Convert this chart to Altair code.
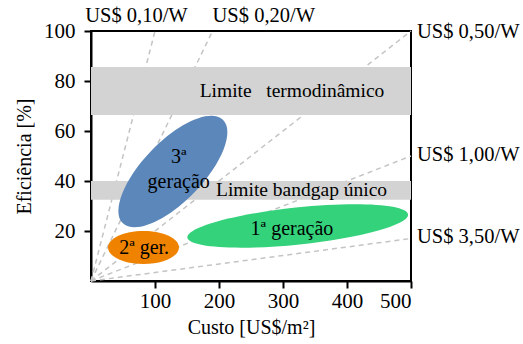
import altair as alt
import pandas as pd

# Iso-price lines (US$/W) from the origin
price_labels = ["US$ 0,10/W", "US$ 0,20/W", "US$ 0,50/W", "US$ 1,00/W", "US$ 3,50/W"]
line_end_cost = [100, 190, 500, 500, 500]
line_end_eff = [100, 100, 100, 50, 17]
label_cost = [71, 270, 500, 500, 500]
label_eff = [106, 106, 99.6, 50.4, 17.6]

# Limit bands
band_names = ["Limite\u00a0\u00a0 termodinâmico", "Limite bandgap único"]
band_low = [66.4, 32.5]
band_high = [85.6, 40.0]
band_text_cost = [314, 329]
band_text_eff = [76, 36.3]

# Generations (ellipse centres and labels)
gen_labels = ["3ª\ngeração", "2ª ger.", "1ª geração"]
gen_cost = [128, 82, 323]
gen_eff = [43.8, 13.4, 22.0]
gen_text_cost = [137, 83, 314]
gen_text_eff = [49.6, 13.3, 21.0]

FONT = "Liberation Serif"
FS = 20

lines_rows = []
for lab, xc, ye in zip(price_labels, line_end_cost, line_end_eff):
    lines_rows.append({"price": lab, "cost": 0, "eff": 0, "o": 0})
    lines_rows.append({"price": lab, "cost": xc, "eff": ye, "o": 1})
lines_df = pd.DataFrame(lines_rows)
labels_df = pd.DataFrame({"price": price_labels, "cost": label_cost, "eff": label_eff})
bands_df = pd.DataFrame({"name": band_names, "lo": band_low, "hi": band_high,
                         "cost": [0] * 2, "cost2": [500] * 2,
                         "tx": band_text_cost, "ty": band_text_eff})
gen_df = pd.DataFrame({"label": gen_labels, "cost": gen_cost, "eff": gen_eff,
                       "tx": gen_text_cost, "ty": gen_text_eff})

xscale = alt.Scale(domain=[0, 500], nice=False, zero=False)
yscale = alt.Scale(domain=[0, 100], nice=False, zero=False)
xaxis = alt.Axis(values=[100, 200, 300, 400, 500], title="Custo [US$/m²]", grid=False,
                 labelPadding=2, titlePadding=6)
yaxis = alt.Axis(values=[20, 40, 60, 80, 100], title="Eficiência [%]", grid=False,
                 labelPadding=9, titlePadding=9)

X = lambda f="cost": alt.X(f"{f}:Q", scale=xscale, axis=xaxis)
Y = lambda f="eff": alt.Y(f"{f}:Q", scale=yscale, axis=yaxis)

lines = alt.Chart(lines_df).mark_line(color="#c4c4c4", strokeWidth=1.5, strokeDash=[5, 4]).encode(
    x=X(), y=Y(), detail="price:N", order="o:Q")

bands = alt.Chart(bands_df).mark_rect(color="#d3d3d3").encode(
    x=X(), x2="cost2:Q", y=Y("lo"), y2="hi:Q")

band_text = alt.Chart(bands_df).mark_text(font=FONT, fontSize=19.5, color="black").encode(
    x=X("tx"), y=Y("ty"), text="name:N")


def ell(b):
    k = 0.5523
    return (f"M -1 0 C -1 {-k*b:.4f} {-k} {-b:.4f} 0 {-b:.4f} "
            f"C {k} {-b:.4f} 1 {-k*b:.4f} 1 0 "
            f"C 1 {k*b:.4f} {k} {b:.4f} 0 {b:.4f} "
            f"C {-k} {b:.4f} -1 {k*b:.4f} -1 0 Z")

ell_styles = [
    dict(color="#5b87ba", shape=ell(30 / 72), size=4 * 72 ** 2, angle=314),
    dict(color="#ef8300", shape=ell(16.5 / 35.5), size=4 * 35.5 ** 2, angle=0),
    dict(color="#33d27b", shape=ell(18.5 / 111), size=4 * 111 ** 2, angle=354),
]
ellipses = []
for i, st in enumerate(ell_styles):
    ellipses.append(
        alt.Chart(gen_df.iloc[[i]]).mark_point(filled=True, opacity=1, strokeWidth=0, **st).encode(
            x=X(), y=Y()))

gen_text = alt.Chart(gen_df).mark_text(font=FONT, fontSize=FS, color="black",
                                       lineBreak="\n", lineHeight=25).encode(
    x=X("tx"), y=Y("ty"), text="label:N")

top_labels = alt.Chart(labels_df.iloc[:2]).mark_text(font=FONT, fontSize=20.5, color="black").encode(
    x=X(), y=Y(), text="price:N")
right_labels = alt.Chart(labels_df.iloc[2:]).mark_text(font=FONT, fontSize=20.5, color="black",
                                                      align="left", dx=6).encode(
    x=X(), y=Y(), text="price:N")

chart = alt.layer(lines, bands, band_text, *ellipses, gen_text, top_labels, right_labels).properties(
    width=320, height=250,
    autosize=alt.AutoSizeParams(type="none"),
    padding={"left": 91, "top": 31, "right": 112, "bottom": 63},
    background="white",
).configure_view(stroke="black", strokeWidth=2).configure_axis(
    domainColor="black", domainWidth=2, tickColor="black", tickWidth=2, tickSize=7,
    labelFont=FONT, labelFontSize=21, labelColor="black",
    titleFont=FONT, titleFontSize=20, titleFontWeight="normal", titleColor="black",
)

chart.save("out.html", embed_options={"renderer": "svg", "actions": False})
